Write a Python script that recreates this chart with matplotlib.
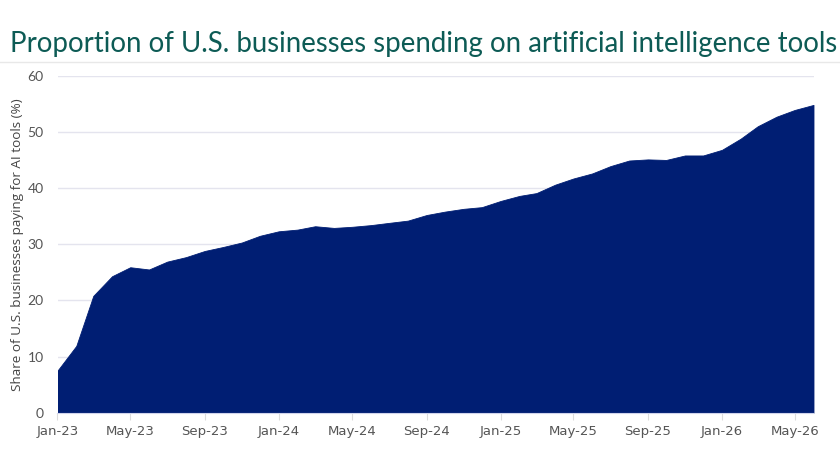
import pandas as pd
import matplotlib.pyplot as plt
import matplotlib.dates as mdates

# monthly share of U.S. businesses paying for AI tools (%), Jan-23 .. Jun-26
months = pd.date_range('2023-01-01', '2026-06-01', freq='MS')
share = [7.5, 11.9, 20.8, 24.3, 25.9, 25.5, 26.9, 27.7, 28.8, 29.5, 30.3, 31.5,
         32.3, 32.6, 33.2, 32.9, 33.1, 33.4, 33.8, 34.2, 35.2, 35.8, 36.3, 36.6,
         37.7, 38.6, 39.1, 40.6, 41.7, 42.6, 43.9, 44.9, 45.1, 45.0, 45.8, 45.8,
         46.8, 48.8, 51.0, 52.7, 53.9, 54.8]
tick_dates = pd.date_range('2023-01-01', '2026-05-01', freq='4MS')
yticks = [0, 10, 20, 30, 40, 50, 60]

navy = '#001e73'
teal = '#0d5b55'
grey = '#555555'

fig = plt.figure(figsize=(8.4, 4.72), dpi=100)
ax = fig.add_axes([57.5 / 840, 59.3 / 472, 756 / 840, 337 / 472])

ax.fill_between(months, share, 0, color=navy, linewidth=0.6, edgecolor=navy)

ax.set_xlim(months[0], months[-1])
ax.set_ylim(0, 60)
ax.set_yticks(yticks)
ax.set_xticks(tick_dates)
ax.xaxis.set_major_formatter(mdates.DateFormatter('%b-%y'))

ax.grid(axis='y', color='#e4e4ee', linewidth=1)
ax.set_axisbelow(True)
for s in ['top', 'right', 'left']:
    ax.spines[s].set_visible(False)
ax.spines['bottom'].set_color('#d0d4ec')

ax.tick_params(axis='y', length=0, pad=10, labelsize=10, labelcolor=grey)
ax.tick_params(axis='x', length=5, color='#dcdcdc', pad=4, labelsize=9.5, labelcolor=grey)
for lab in ax.get_xticklabels():
    lab.set_family(['Liberation Sans Narrow', 'DejaVu Sans'])
for lab in ax.get_yticklabels():
    lab.set_family(['Lato', 'DejaVu Sans'])

ax.set_ylabel('Share of U.S. businesses paying for AI tools (%)', fontsize=9.7,
              color='#444444', family=['Open Sans', 'DejaVu Sans'])
ax.yaxis.set_label_coords(-34 / 756, 0.5)

fig.text(10 / 840, 1 - 51.7 / 472,
         'Proportion of U.S. businesses spending on artificial intelligence tools',
         color=teal, fontsize=19.9, va='baseline', ha='left', family=['Lato', 'DejaVu Sans'])
fig.add_artist(plt.Line2D([0, 1], [1 - 62.3 / 472] * 2, color='#e8e8e8', linewidth=1,
                          transform=fig.transFigure))

fig.savefig('out.png', dpi=100)
